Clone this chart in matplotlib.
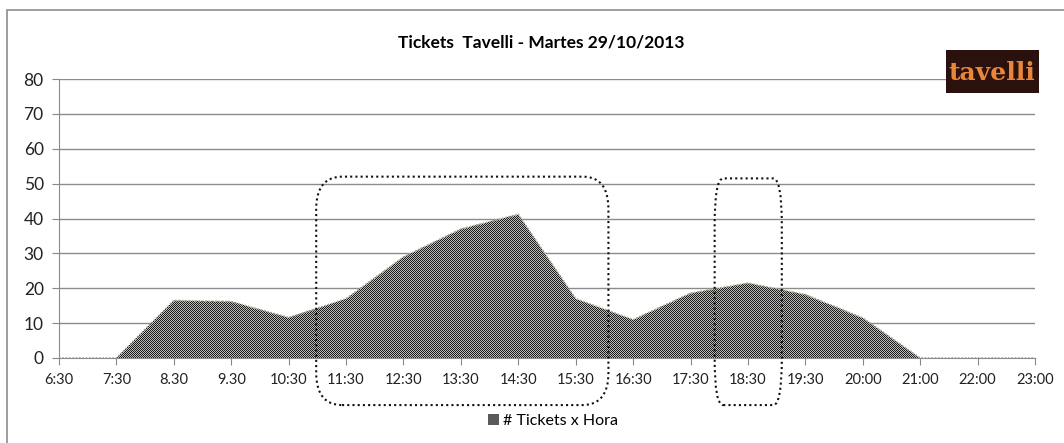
import numpy as np
import matplotlib
matplotlib.use("Agg")
import matplotlib.pyplot as plt
from matplotlib.patches import FancyBboxPatch, Rectangle, Patch
from matplotlib.colors import ListedColormap

plt.rcParams['font.family'] = ['Lato', 'DejaVu Sans']

# tickets per hour, Tuesday 29/10/2013
horas = ['6:30', '7:30', '8.30', '9.30', '10:30', '11:30', '12:30', '13:30',
         '14:30', '15:30', '16:30', '17:30', '18:30', '19:30', '20:00',
         '21:00', '22:00', '23:00']
tickets = [0, 0, 16.5, 16.2, 11.6, 17, 29, 37, 41.2, 17, 11, 18.6, 21.5,
           18.2, 11.5, 0, 0, 0]

# highlighted periods (category index range, ticket range)
zonas = [(4.48, 9.57, -13.5, 52), (11.42, 12.59, -13.5, 51.5)]

W, H = 1064, 443
fig = plt.figure(figsize=(W / 100, H / 100), dpi=100)
ax = fig.add_axes([59 / W, 1 - 358 / H, (1035 - 59) / W, (358 - 79) / H])

x = np.arange(len(horas))
y = np.array(tickets)

# checkered fill, clipped to the area under the series
poly = ax.fill_between(x, 0, y, facecolor='none', edgecolor='none', zorder=2)
nx, ny = 1035 - 59, 358 - 79
chk = (np.add.outer(np.arange(ny), np.arange(nx)) % 2).astype(float)
img = ax.imshow(chk, cmap=ListedColormap(['#1a1a1a', '#bdbdbd']),
                vmin=0, vmax=1, interpolation='nearest',
                extent=(0, len(horas) - 1, 0, 80), aspect='auto', zorder=2)
img.set_clip_path(poly.get_paths()[0], transform=ax.transData)
ax.plot(x, y, ls=(0, (1, 1)), color='#a8a890', lw=1.2, zorder=3)

ax.set_xlim(0, len(horas) - 1)
ax.set_ylim(0, 80)
ax.set_yticks(range(0, 81, 10))
ax.set_xticks(x)
ax.set_xticklabels(horas, fontsize=10.5, color='#222222')
ax.tick_params(axis='y', labelsize=12.5, colors='#222222', length=5,
               color='#888888', pad=6)
ax.tick_params(axis='x', length=5, color='#888888', pad=6)
for yy in range(10, 81, 10):
    ax.axhline(yy, color='#8c8c8c', lw=1, zorder=1)
for s in ['top', 'right']:
    ax.spines[s].set_visible(False)
for s in ['left', 'bottom']:
    ax.spines[s].set_color('#8c8c8c')

for x0, x1, y0, y1 in zonas:
    r = 0.45 if x1 - x0 > 2 else 0.15
    ax.add_patch(FancyBboxPatch((x0, y0), x1 - x0, y1 - y0,
                                boxstyle='round,pad=0,rounding_size=%s' % r,
                                mutation_aspect=(y1 - y0) / (x1 - x0) * 1.6,
                                fill=False, ls=(0, (1, 1.5)), lw=1.5,
                                ec='#111111', clip_on=False, zorder=4))

fig.text(541 / W, 1 - 42 / H, 'Tickets  Tavelli - Martes 29/10/2013',
         ha='center', va='center', fontsize=12.5, fontweight='bold')

# logo
fig.patches.append(Rectangle((946 / W, 1 - 93 / H), 93 / W, 43 / H,
                             transform=fig.transFigure, fc='#2b110e',
                             ec='none'))
fig.text(992 / W, 1 - 73 / H, 'tavelli', ha='center', va='center',
         fontsize=18, fontweight='heavy', color='#e8873a',
         family='DejaVu Serif')

# outer frame
fig.patches.append(Rectangle((7 / W, -0.05), 1.1, 1 - 10 / H + 0.05,
                             transform=fig.transFigure, fill=False,
                             ec='#8c8c8c', lw=1.2))

fig.legend(handles=[Patch(fc='#5a5a5a', ec='none', label='# Tickets x Hora')],
           loc='center', bbox_to_anchor=(553 / W, 1 - 421 / H), frameon=False,
           fontsize=11.5, handlelength=0.7, handleheight=0.7, handletextpad=0.3)

fig.savefig('out.png', dpi=100)
